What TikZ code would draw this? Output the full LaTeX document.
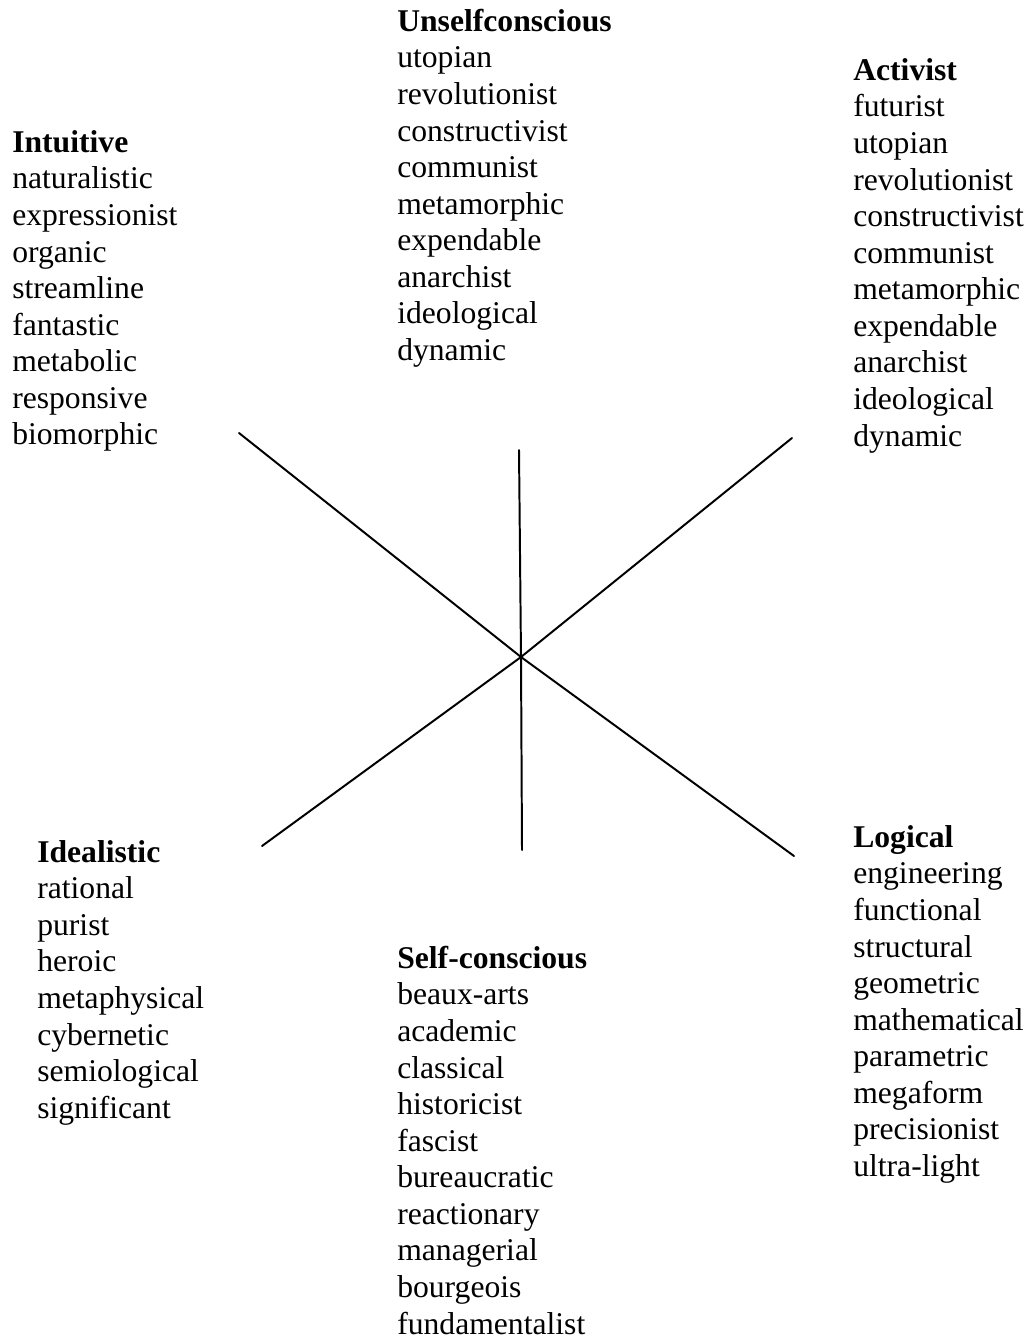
\documentclass[tikz,border=0pt]{standalone}
\usepackage{fontspec}
\setmainfont{Liberation Serif}
\begin{document}
\begin{tikzpicture}[x=0.025cm,y=-0.025cm,
  group/.style={anchor=base west,inner sep=0pt,align=left,font=\fontsize{22.5}{26}\selectfont},
  axis/.style={line width=1.4pt,line cap=round}]
\useasboundingbox (0,0) rectangle (1031,1341);
% each group sits on the baseline of its last line
\node[group] (unself) at (397,{31+9*36.6}) {\textbf{Unselfconscious}\\utopian\\revolutionist\\constructivist\\communist\\metamorphic\\expendable\\anarchist\\ideological\\dynamic};
\node[group] (intuitive) at (12,{152+8*36.6}) {\textbf{Intuitive}\\naturalistic\\expressionist\\organic\\streamline\\fantastic\\metabolic\\responsive\\biomorphic};
\node[group] (activist) at (853,{80+10*36.6}) {\textbf{Activist}\\futurist\\utopian\\revolutionist\\constructivist\\communist\\metamorphic\\expendable\\anarchist\\ideological\\dynamic};
\node[group] (idealistic) at (37,{862+7*36.6}) {\textbf{Idealistic}\\rational\\purist\\heroic\\metaphysical\\cybernetic\\semiological\\significant};
\node[group] (selfcon) at (397,{968+10*36.6}) {\textbf{Self-conscious}\\beaux-arts\\academic\\classical\\historicist\\fascist\\bureaucratic\\reactionary\\managerial\\bourgeois\\fundamentalist};
\node[group] (logical) at (853,{847+9*36.6}) {\textbf{Logical}\\engineering\\functional\\structural\\geometric\\mathematical\\parametric\\megaform\\precisionist\\ultra-light};
% centre and the ends of the six spokes
\coordinate (c) at (521,657);
\coordinate (t) at (519,450);
\coordinate (b) at (522,850);
\coordinate (tl) at (239,433);
\coordinate (br) at (794,856);
\coordinate (tr) at (792,438);
\coordinate (bl) at (262,846);
\foreach \e in {t,b,tl,br,tr,bl}
  \draw[axis] (c) -- (\e);
\end{tikzpicture}
\end{document}
